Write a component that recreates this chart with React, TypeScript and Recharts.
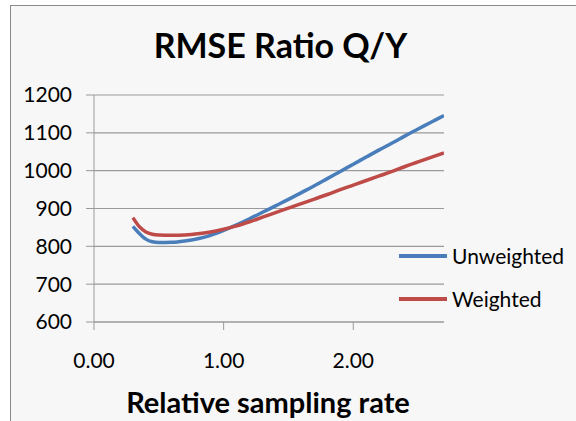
import { LineChart, Line, XAxis, YAxis, CartesianGrid } from 'recharts';

const samplingRate = [0.3, 0.35, 0.4, 0.45, 0.5, 0.6, 0.7, 0.8, 0.9, 1.0, 1.1, 1.2, 1.3, 1.4, 1.5, 1.6, 1.7, 1.8, 1.9, 2.0, 2.1, 2.2, 2.3, 2.4, 2.5, 2.6, 2.7];
const unweighted = [853, 834, 819, 812, 810, 810.5, 814, 820, 829, 842, 857, 873, 890, 907, 924, 942, 960, 979, 998, 1017, 1036, 1055, 1073, 1092, 1110, 1128, 1146];
const weighted = [876, 852, 838, 832, 830, 829, 830, 833, 838, 845, 854, 865, 877, 889, 901, 913, 925, 937, 950, 962, 974, 986, 998, 1011, 1023, 1035, 1047];
const xTicks = [0, 1, 2];
const yTicks = [600, 700, 800, 900, 1000, 1100, 1200];

const series = [
    { key: 'unweighted', name: 'Unweighted', color: '#4a7ebb' },
    { key: 'weighted', name: 'Weighted', color: '#be4b48' },
];

const data = samplingRate.map((x, i) => ({ x, unweighted: unweighted[i], weighted: weighted[i] }));

const font = 'Lato, "Open Sans", sans-serif';

export default function App() {
    return (
        <div style={{ position: 'fixed', left: 0, top: 0, width: 576, height: 421, overflow: 'hidden', background: '#fff' }}>
            {/* chart frame, cut by the picture edge on the right and bottom */}
            <div style={{ position: 'absolute', left: 10, top: 5, width: 620, height: 470, border: '1px solid #8a8a8a', background: '#f7f7f7' }} />
            <div style={{ position: 'absolute', left: 0, top: 0 }}>
                <LineChart width={576} height={421} data={data} margin={{ top: 95, right: 132, left: 34, bottom: 59 }}>
                    <CartesianGrid horizontal vertical={false} stroke="#9a9a9a" strokeWidth={1.2} />
                    <XAxis
                        dataKey="x"
                        type="number"
                        domain={[0, 2.7]}
                        ticks={xTicks}
                        interval={0}
                        allowDataOverflow
                        height={40}
                        tickFormatter={(v) => v.toFixed(2)}
                        stroke="#9a9a9a"
                        tickSize={8}
                        tickMargin={23}
                        tick={{ fill: '#000', fontSize: 21, fontFamily: font }}
                    />
                    <YAxis
                        type="number"
                        domain={[600, 1200]}
                        ticks={yTicks}
                        interval={0}
                        width={60}
                        stroke="#9a9a9a"
                        tickSize={8}
                        tickMargin={14}
                        tick={{ fill: '#000', fontSize: 21, fontFamily: font }}
                    />
                    {series.map((s) => (
                        <Line
                            key={s.key}
                            type="monotone"
                            dataKey={s.key}
                            name={s.name}
                            stroke={s.color}
                            strokeWidth={3.5}
                            dot={false}
                            isAnimationActive={false}
                        />
                    ))}
                </LineChart>
            </div>
            {/* legend sits over the right side of the plot, like in the original */}
            <div style={{ position: 'absolute', left: 399, top: 234 }}>
                {series.map((s) => (
                    <div key={s.key} style={{ display: 'flex', alignItems: 'center', height: 43, fontFamily: font, fontSize: 21, color: '#000' }}>
                        <svg width={53} height={8}>
                            <line x1={0} y1={4} x2={48} y2={4} stroke={s.color} strokeWidth={4} />
                        </svg>
                        <span>{s.name}</span>
                    </div>
                ))}
            </div>
            <svg width={576} height={421} style={{ position: 'absolute', left: 0, top: 0, pointerEvents: 'none' }}>
                <text x={280.5} y={58} textAnchor="middle" fontFamily={font} fontWeight="bold" fontSize={34} fill="#000">
                    RMSE Ratio Q/Y
                </text>
                <text x={268} y={413} textAnchor="middle" fontFamily={font} fontWeight="bold" fontSize={29} fill="#000">
                    Relative sampling rate
                </text>
            </svg>
        </div>
    );
}
